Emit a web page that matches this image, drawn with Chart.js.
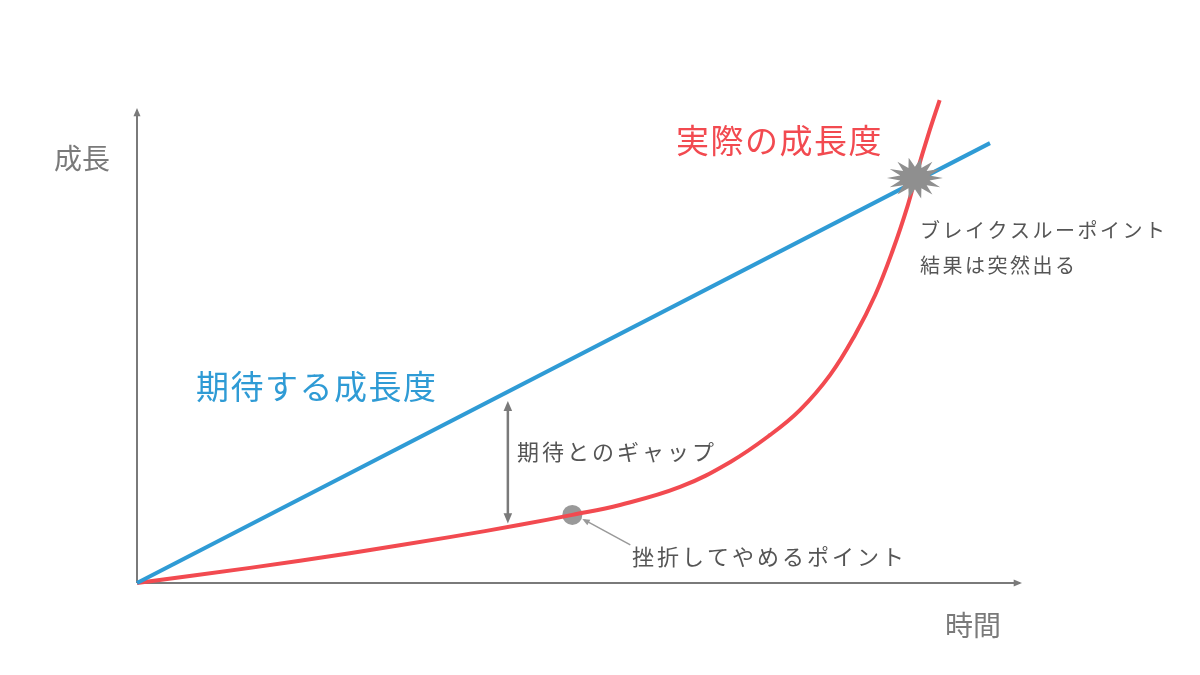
<!DOCTYPE html>
<html><head><meta charset="utf-8">
<script src="https://cdn.jsdelivr.net/npm/chart.js@4/dist/chart.umd.min.js"></script>
<style>html,body{margin:0;background:#fff}#wrap{width:1200px;height:675px}</style>
</head><body><div id="wrap"><canvas id="c"></canvas></div>
<script>
// expected growth: straight line
const expectedX = [0, 96.6]
const expectedY = [0, 93.0]
// actual growth: slow then explosive
const actualX = [0, 12.8, 24.1, 35.4, 43.4, 49.3, 54.7, 61.5, 67.2, 71.7, 75.1, 78.5, 81.3, 83.6, 85.6, 87.3, 88.4, 89.6, 90.9]
const actualY = [0, 3.2, 6.3, 9.7, 12.3, 14.4, 16.5, 20.3, 25.6, 31.3, 36.6, 44.0, 52.4, 60.9, 70.4, 79.9, 87.3, 94.7, 102.1]
const quitPoint = [49.3, 14.4]
const breakPoint = [88.1, 85.6]
const gapX = 42, gapTop = 38.5, gapBottom = 12.6

const BLUE = '#2f9bd5', RED = '#f24a50', GREY = '#7a7a7a'
const JP = '"Noto Sans CJK JP", sans-serif'

function pts(xs, ys) { return xs.map((x, i) => ({x: x, y: ys[i]})) }

function arrowHead(ctx, x, y, ang, size) {
  ctx.beginPath()
  ctx.moveTo(x, y)
  ctx.lineTo(x - size * Math.cos(ang - 0.4), y - size * Math.sin(ang - 0.4))
  ctx.lineTo(x - size * Math.cos(ang + 0.4), y - size * Math.sin(ang + 0.4))
  ctx.closePath()
  ctx.fill()
}

function text(ctx, s, x, y, size, color, spacing) {
  ctx.font = size + 'px ' + JP
  ctx.fillStyle = color
  ctx.letterSpacing = (spacing || 0) + 'px'
  ctx.fillText(s, x, y)
}

const decor = {
  id: 'decor',
  beforeDatasetsDraw(chart) {
    const ctx = chart.ctx, a = chart.chartArea
    ctx.save()
    ctx.strokeStyle = GREY; ctx.fillStyle = GREY; ctx.lineWidth = 2
    // axes
    ctx.beginPath(); ctx.moveTo(a.left, a.bottom); ctx.lineTo(a.right, a.bottom); ctx.stroke()
    arrowHead(ctx, a.right + 2, a.bottom, 0, 9)
    ctx.beginPath(); ctx.moveTo(a.left, a.bottom); ctx.lineTo(a.left, a.top); ctx.stroke()
    arrowHead(ctx, a.left, a.top - 2, -Math.PI / 2, 9)
    ctx.restore()
  },
  afterDatasetsDraw(chart) {
    const ctx = chart.ctx, xs = chart.scales.x, ys = chart.scales.y
    ctx.save()
    // gap arrow
    const gx = xs.getPixelForValue(gapX), t = ys.getPixelForValue(gapTop), b = ys.getPixelForValue(gapBottom)
    ctx.strokeStyle = GREY; ctx.fillStyle = GREY; ctx.lineWidth = 2.5
    ctx.beginPath(); ctx.moveTo(gx, t + 6); ctx.lineTo(gx, b - 6); ctx.stroke()
    arrowHead(ctx, gx, t, -Math.PI / 2, 11)
    arrowHead(ctx, gx, b, Math.PI / 2, 11)
    // quit pointer
    const qx = xs.getPixelForValue(quitPoint[0]), qy = ys.getPixelForValue(quitPoint[1])
    ctx.strokeStyle = '#999'; ctx.fillStyle = '#999'; ctx.lineWidth = 1.5
    ctx.beginPath(); ctx.moveTo(qx + 58, qy + 30); ctx.lineTo(qx + 12, qy + 5); ctx.stroke()
    arrowHead(ctx, qx + 10, qy + 4, Math.atan2(-25, -46), 8)
    // breakthrough starburst
    const bx = xs.getPixelForValue(breakPoint[0]), by = ys.getPixelForValue(breakPoint[1])
    ctx.fillStyle = '#8f8f8f'
    ctx.beginPath()
    for (let i = 0; i < 28; i++) {
      const r = i % 2 ? 15 : 28, ang = i * Math.PI / 14
      ctx.lineTo(bx + r * Math.cos(ang), by + r * Math.sin(ang) * 0.75)
    }
    ctx.closePath(); ctx.fill()
    // texts
    ctx.textBaseline = 'middle'
    text(ctx, '成長', 54, 158, 28, GREY, 0)
    text(ctx, '時間', 945, 625, 28, GREY, 0)
    text(ctx, '実際の成長度', 676, 140, 33, RED, 1.5)
    text(ctx, '期待する成長度', 196, 386, 33, BLUE, 1.5)
    text(ctx, '期待とのギャップ', 517, 452, 22, '#555', 3)
    text(ctx, '挫折してやめるポイント', 632, 557, 22, '#555', 3)
    text(ctx, 'ブレイクスルーポイント', 920, 230, 20, '#555', 2.5)
    text(ctx, '結果は突然出る', 920, 265, 20, '#555', 2.5)
    ctx.restore()
  }
}

new Chart(document.getElementById('c'), {
  type: 'scatter',
  data: {
    datasets: [
      {data: pts(expectedX, expectedY), showLine: true, borderColor: BLUE, borderWidth: 4, pointRadius: 0, clip: false},
      {data: pts(actualX, actualY), showLine: true, borderColor: RED, borderWidth: 4, pointRadius: 0, tension: 0.4, clip: false},
      {data: [{x: quitPoint[0], y: quitPoint[1]}], pointRadius: 10, pointBackgroundColor: '#999', pointBorderWidth: 0}
    ]
  },
  options: {
    responsive: true, maintainAspectRatio: false, animation: false,
    layout: {padding: {left: 137, right: 180, top: 110, bottom: 92}},
    plugins: {legend: {display: false}, tooltip: {enabled: false}},
    scales: {
      x: {type: 'linear', min: 0, max: 100, display: false},
      y: {type: 'linear', min: 0, max: 100, display: false}
    }
  },
  plugins: [decor]
})
</script></body></html>
